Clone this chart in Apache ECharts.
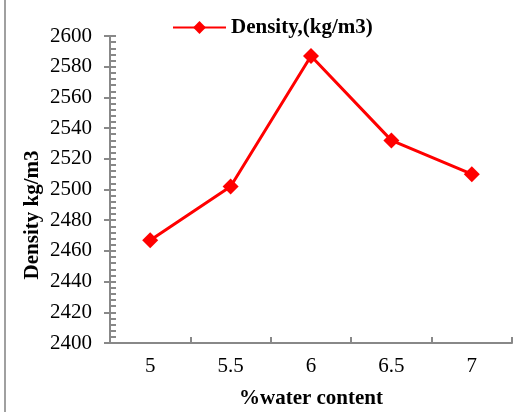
<!DOCTYPE html>
<html>
<head>
<meta charset="utf-8">
<script src="https://cdn.jsdelivr.net/npm/echarts@6/dist/echarts.min.js"></script>
<style>
html,body{margin:0;padding:0;background:#fff;}
#c{width:526px;height:412px;}
</style>
</head>
<body>
<div id="c"></div>
<script>
var categories = ['5', '5.5', '6', '6.5', '7'];
var density = [2467, 2502, 2587, 2532, 2510];
var seriesName = 'Density,(kg/m3)';
var xTitle = '%water content';
var yTitle = 'Density kg/m3';

var chart = echarts.init(document.getElementById('c'));
var serif = '"Liberation Serif", "Times New Roman", serif';
var axisGray = '#888888';
chart.setOption({
  animation: false,
  backgroundColor: '#ffffff',
  textStyle: {fontFamily: serif},
  grid: {left: 110, right: 14, top: 36, bottom: 69, containLabel: false, outerBoundsMode: 'none'},
  legend: {
    data: [seriesName],
    top: 12,
    left: 167,
    itemWidth: 53,
    itemHeight: 16,
    itemGap: 6,
    textStyle: {fontFamily: serif, fontWeight: 'bold', fontSize: 21, color: '#000'}
  },
  graphic: [
    {type: 'rect', shape: {x: 4, y: 0, width: 2, height: 412}, style: {fill: '#a0a0a0'}, silent: true},
    {type: 'text', x: 33, y: 215, rotation: Math.PI / 2,
     style: {text: yTitle, fontFamily: serif, fontWeight: 'bold', fontSize: 21, fill: '#000',
             align: 'center', verticalAlign: 'middle'}}
  ],
  xAxis: {
    type: 'category',
    data: categories,
    boundaryGap: true,
    name: xTitle,
    nameLocation: 'middle',
    nameGap: 45,
    nameTextStyle: {fontFamily: serif, fontWeight: 'bold', fontSize: 21, color: '#000'},
    axisLine: {lineStyle: {color: axisGray, width: 2}},
    axisTick: {show: true, inside: true, length: 6, alignWithLabel: false, lineStyle: {color: axisGray, width: 2}},
    axisLabel: {fontFamily: serif, fontSize: 21, color: '#000', margin: 13},
    splitLine: {show: false}
  },
  yAxis: [
    {
      type: 'value',
      min: 2400, max: 2600, interval: 20,
      axisLine: {show: true, lineStyle: {color: axisGray, width: 2}},
      axisTick: {show: true, inside: false, length: 6, lineStyle: {color: axisGray, width: 2}},
      axisLabel: {fontFamily: serif, fontSize: 21, color: '#000', margin: 18,
                  formatter: function (v) { return String(v); }},
      splitLine: {show: false}
    },
    {
      type: 'value',
      position: 'left',
      min: 2400, max: 2600, interval: 20,
      axisLine: {show: false},
      axisTick: {show: true, inside: true, length: 6, lineStyle: {color: axisGray, width: 2}},
      minorTick: {show: true, splitNumber: 5, length: 6, lineStyle: {color: axisGray, width: 2}},
      axisLabel: {show: false},
      splitLine: {show: false}
    }
  ],
  series: [{
    name: seriesName,
    type: 'line',
    data: density,
    yAxisIndex: 0,
    symbol: 'diamond',
    symbolSize: 16,
    lineStyle: {color: '#ff0000', width: 3},
    itemStyle: {color: '#ff0000'}
  }]
});
</script>
</body>
</html>
